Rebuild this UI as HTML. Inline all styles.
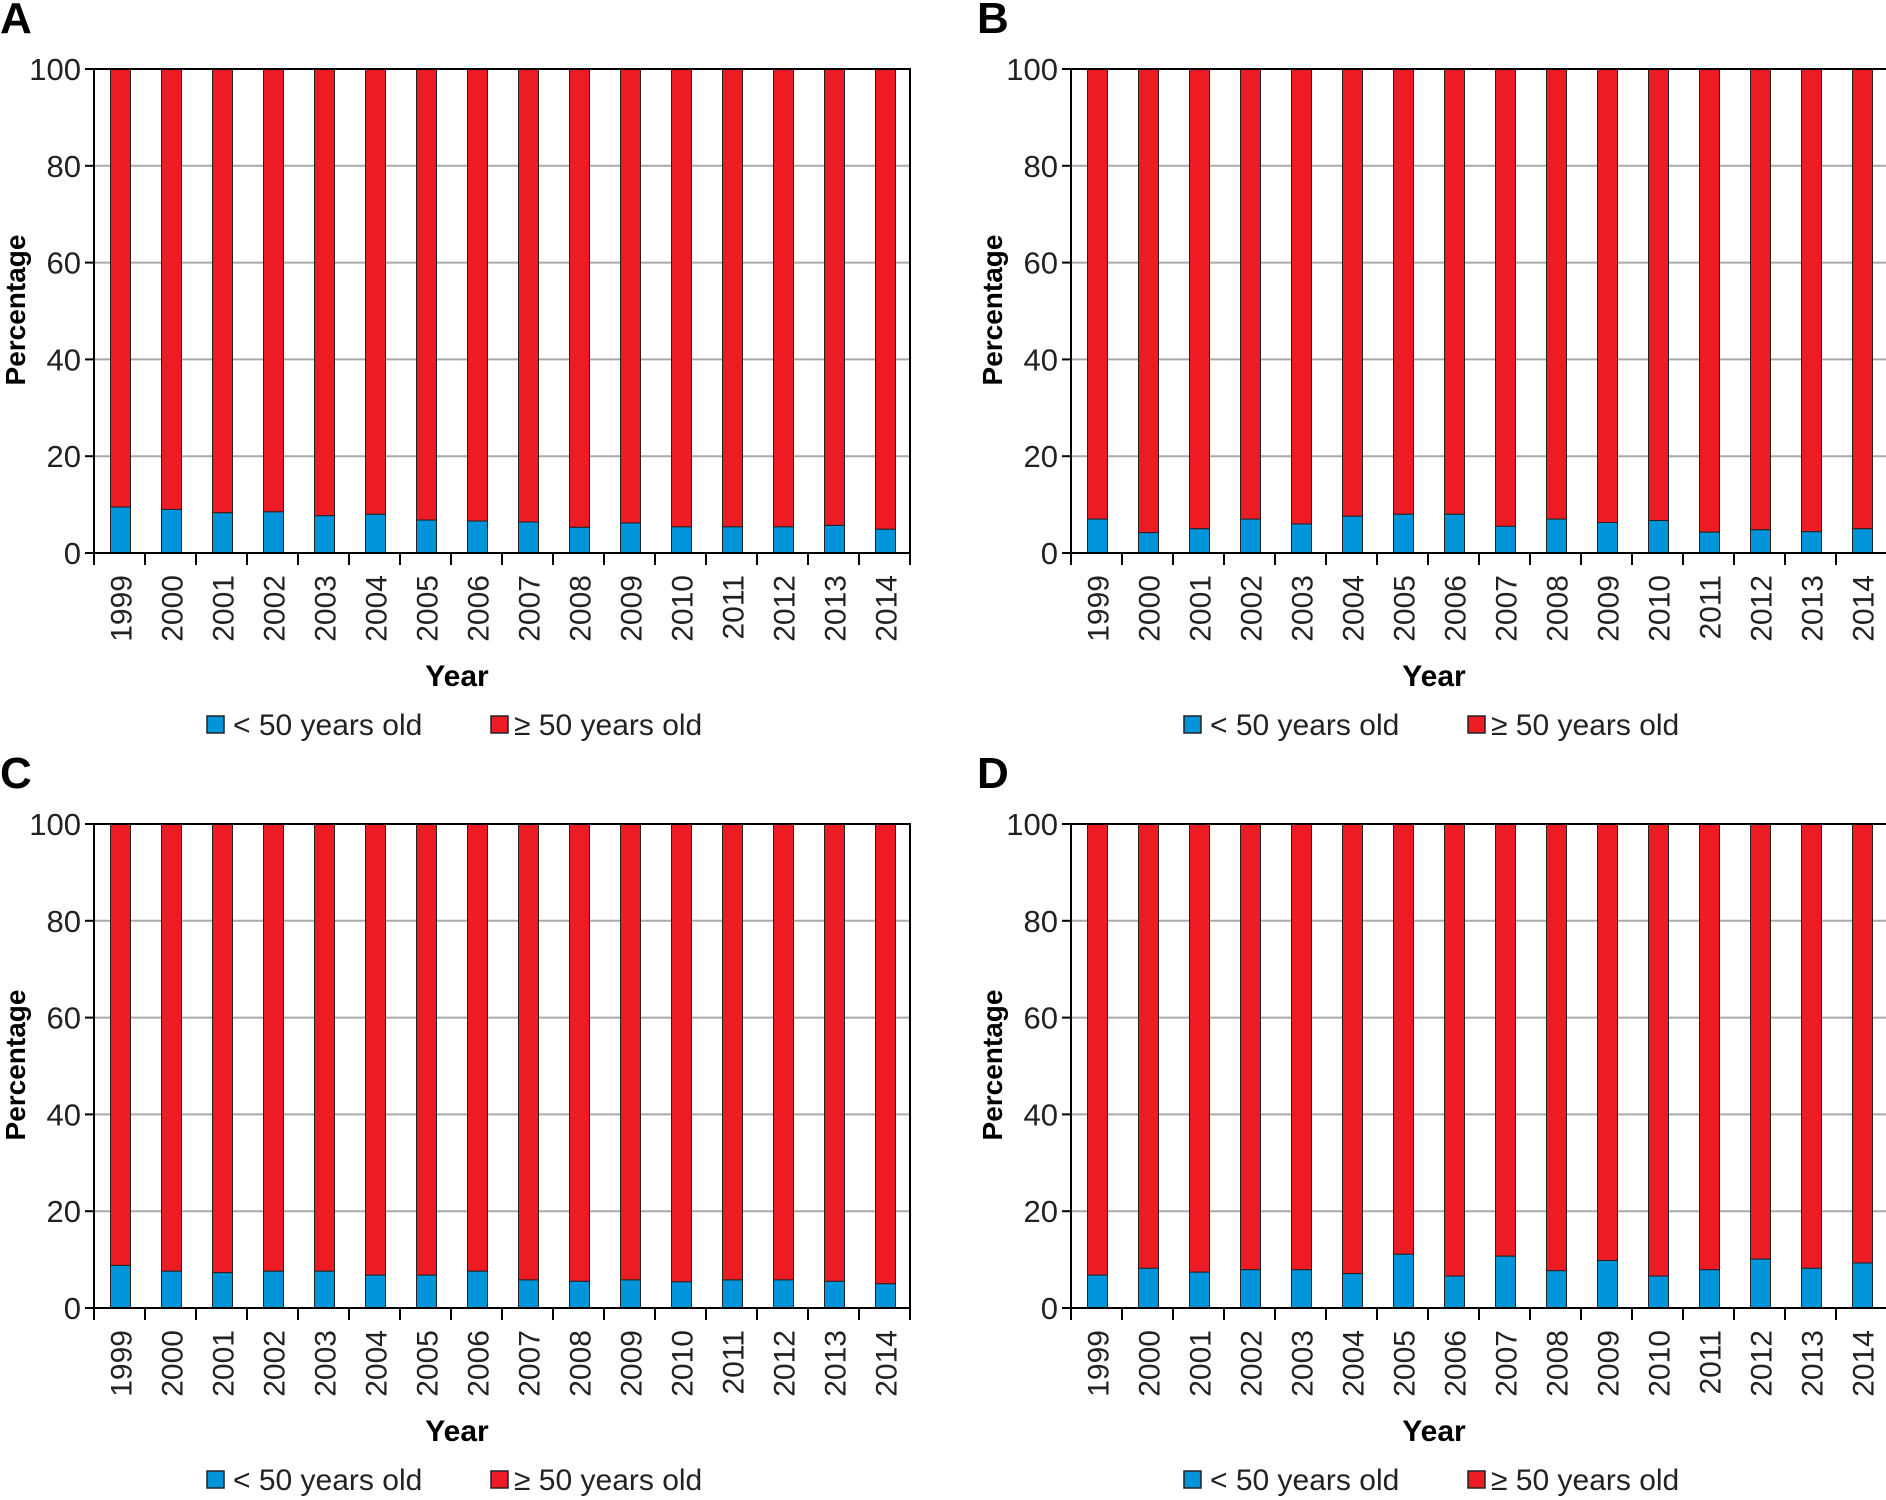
<!DOCTYPE html>
<html><head><meta charset="utf-8"><style>
html,body{margin:0;padding:0;background:#fff;}
svg{display:block;font-family:"Liberation Sans",sans-serif;}
</style></head><body>
<svg id="chart" width="1886" height="1500" viewBox="0 0 1886 1500" xmlns="http://www.w3.org/2000/svg"></svg>
<script>
const years = ["1999","2000","2001","2002","2003","2004","2005","2006","2007","2008","2009","2010","2011","2012","2013","2014"];
const yTicks = [0,20,40,60,80,100];
const panelLetters = ["A","B","C","D"];
const youngA = [9.5,9,8.3,8.5,7.7,8,6.8,6.6,6.4,5.3,6.2,5.4,5.4,5.4,5.7,4.9];
const youngB = [7,4.2,5,7,6,7.6,8,8,5.5,7,6.3,6.7,4.3,4.8,4.4,5];
const youngC = [8.8,7.6,7.3,7.6,7.6,6.8,6.8,7.6,5.8,5.5,5.8,5.4,5.8,5.8,5.5,5];
const youngD = [6.8,8.2,7.4,7.9,7.9,7.1,11.1,6.6,10.7,7.7,9.8,6.6,7.9,10.1,8.2,9.3];
const panelData = [youngA,youngB,youngC,youngD];

const NS="http://www.w3.org/2000/svg";
const svg=document.getElementById('chart');
function mk(tag,attrs,parent){const e=document.createElementNS(NS,tag);for(const k in attrs)e.setAttribute(k,attrs[k]);parent.appendChild(e);return e;}

const offs=[[0,0],[977,0],[0,755],[977,755]];
const L=94,R=910,T=69,B=553;
const W=R-L,H=B-T;
panelLetters.forEach((letter,pi)=>{
  const g=mk('g',{transform:`translate(${offs[pi][0]},${offs[pi][1]})`},svg);
  
  
  const data=panelData[pi];
  const y=v=>B-v/100*H;
  const step=W/years.length;
  const x=i=>L+i*step;
  const lt=mk('text',{x:0,y:33,'font-size':44,'font-weight':'bold'},g);lt.textContent=letter;
  
  
  yTicks.forEach(t=>{
    if(t>0&&t<100){const gl=mk('line',{x1:L,x2:R,y1:y(t),y2:y(t),stroke:'#aaa','stroke-width':2},g);
      
      }
    const tk=mk('line',{x1:L-9,x2:L,y1:y(t),y2:y(t),stroke:'#000','stroke-width':2},g);
    
    
    const tl=mk('text',{x:L-13,y:y(t)+11,'font-size':31,'text-anchor':'end',fill:'#222'},g);
    tl.textContent=t;
    
    
  });
  const bw=20;
  data.forEach((v,i)=>{
    const cx=x(i)+step/2+1;
    const rb=mk('rect',{x:cx-bw/2,y:y(100),width:bw,height:y(v)-y(100),fill:'#ed1c24',stroke:'#222','stroke-width':1},g);
    
    
    const bb=mk('rect',{x:cx-bw/2,y:y(v),width:bw,height:y(0)-y(v),fill:'#0095da',stroke:'#222','stroke-width':1},g);
    
    
    const yl=mk('text',{transform:`translate(${cx+11},${B+22}) rotate(-90)`,'font-size':30,'text-anchor':'end',fill:'#222'},g);
    yl.textContent=years[i];
    
    
  });
  for(let i=0;i<=years.length;i++){
    const xt=mk('line',{x1:x(i),x2:x(i),y1:B,y2:B+12,stroke:'#000','stroke-width':2},g);
    
    
  }
  const fr=mk('rect',{x:L,y:T,width:W,height:H,fill:'none',stroke:'#000','stroke-width':2},g);
  
  
  const xa=mk('text',{x:457,y:686,'font-size':30,'font-weight':'bold','text-anchor':'middle'},g);
  xa.textContent='Year';
  
  
  const ya=mk('text',{transform:`translate(25,${310}) rotate(-90)`,'font-size':28,'font-weight':'bold','text-anchor':'middle'},g);
  ya.textContent='Percentage';
  
  
  const l1=mk('rect',{x:207,y:716,width:17,height:17,fill:'#0095da',stroke:'#222','stroke-width':1.5},g);
  
  
  const t1=mk('text',{x:233,y:735,'font-size':30,fill:'#222'},g);t1.textContent='< 50 years old';
  
  
  const l2=mk('rect',{x:491,y:716,width:17,height:17,fill:'#ed1c24',stroke:'#222','stroke-width':1.5},g);
  
  
  const t2=mk('text',{x:514,y:735,'font-size':30,fill:'#222'},g);t2.textContent='≥ 50 years old';
  
  
});
</script>
</body></html>
